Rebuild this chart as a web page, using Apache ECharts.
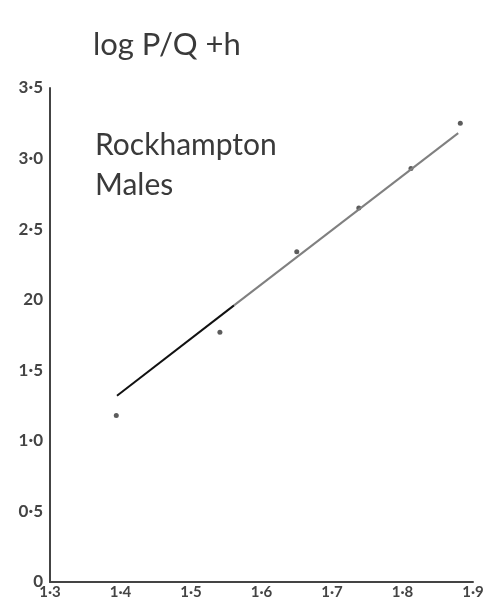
<!DOCTYPE html>
<html>
<head>
<meta charset="utf-8">
<script src="https://cdn.jsdelivr.net/npm/echarts@6/dist/echarts.min.js"></script>
<style>
html,body{margin:0;padding:0;background:#fff;}
#chart{width:488px;height:607px;}
</style>
</head>
<body>
<div id="chart"></div>
<script>
// Data
var pointX = [1.394, 1.541, 1.650, 1.738, 1.812, 1.882];
var pointY = [1.18, 1.77, 2.34, 2.65, 2.93, 3.25];
// fitted line: dark lower part, lighter upper part
var lineDarkX = [1.395, 1.561];
var lineDarkY = [1.32, 1.96];
var lineLightX = [1.561, 1.879];
var lineLightY = [1.96, 3.18];
// tick labels as written
var xTicks = [1.3, 1.4, 1.5, 1.6, 1.7, 1.8, 1.9];
var xTickLabels = ["1·3", "1·4", "1·5", "1·6", "1·7", "1·8", "1·9"];
var yTicks = [0, 0.5, 1.0, 1.5, 2.0, 2.5, 3.0, 3.5];
var yTickLabels = ["0", "0·5", "1·0", "1·5", "20", "2·5", "3·0", "3·5"];
var titleText = "log P/Q +h";
var noteLines = ["Rockhampton", "Males"];

function pairs(xs, ys){ return xs.map(function(x,i){ return [x, ys[i]]; }); }
function lookup(ticks, labels, v){
  for (var i=0;i<ticks.length;i++){ if (Math.abs(ticks[i]-v) < 1e-6) return labels[i]; }
  return '';
}

var chart = echarts.init(document.getElementById('chart'));
var font = '"Lato", "Noto Sans", sans-serif';
chart.setOption({
  backgroundColor: '#ffffff',
  animation: false,
  title: [{
    text: titleText,
    left: 88, top: 24,
    textStyle: {fontFamily: font, fontSize: 31, fontWeight: 'normal', color: '#3a3a3a'}
  }, {
    text: noteLines.join('\n'),
    left: 90, top: 120,
    textStyle: {fontFamily: font, fontSize: 30, fontWeight: 'normal', color: '#3a3a3a', lineHeight: 40}
  }],
  grid: {left: 50, right: 15, top: 88, bottom: 25},
  xAxis: {
    type: 'value', min: 1.3, max: 1.9, interval: 0.1,
    axisLine: {show: true, lineStyle: {color: '#444', width: 2}},
    axisTick: {show: false},
    splitLine: {show: false},
    axisLabel: {
      margin: 3, color: '#444', fontSize: 15, fontWeight: 'bold', fontFamily: font,
      formatter: function(v){ return lookup(xTicks, xTickLabels, v); }
    }
  },
  yAxis: {
    type: 'value', min: 0, max: 3.5, interval: 0.5,
    axisLine: {show: true, lineStyle: {color: '#444', width: 2}},
    axisTick: {show: false},
    splitLine: {show: false},
    axisLabel: {
      margin: 7, color: '#444', fontSize: 17, fontWeight: 'bold', fontFamily: font,
      formatter: function(v){ return lookup(yTicks, yTickLabels, v); }
    }
  },
  series: [{
    type: 'line', data: pairs(lineDarkX, lineDarkY), symbol: 'none',
    lineStyle: {color: '#111', width: 2}
  }, {
    type: 'line', data: pairs(lineLightX, lineLightY), symbol: 'none',
    lineStyle: {color: '#808080', width: 2}
  }, {
    type: 'scatter', data: pairs(pointX, pointY), symbolSize: 5,
    itemStyle: {color: '#333'}
  }]
});
</script>
</body>
</html>
